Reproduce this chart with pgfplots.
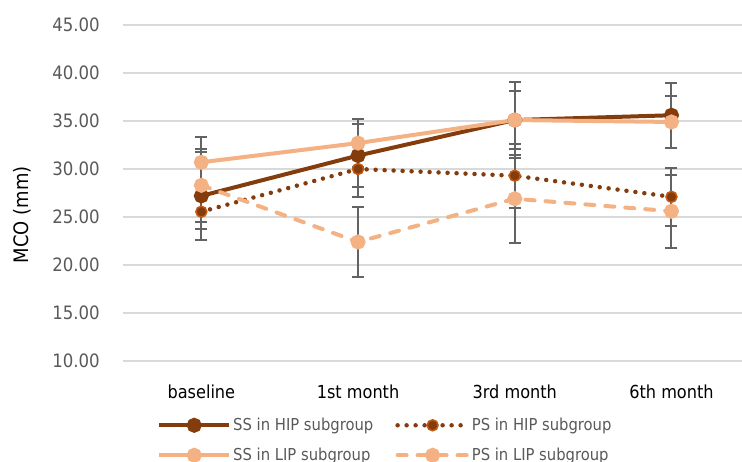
\documentclass[border=0pt]{standalone}
\usepackage{pgfplots}
\pgfplotsset{compat=1.18}
\usepackage{pgfplotstable}
\usepackage{fontspec}
\setmainfont{DejaVu Sans Condensed}
\definecolor{darkb}{HTML}{843C0C}
\definecolor{lightb}{HTML}{F4B183}
\definecolor{orgb}{HTML}{C55A11}
\definecolor{errg}{HTML}{636363}
\definecolor{gridg}{HTML}{D9D9D9}
\definecolor{txtg}{HTML}{595959}

\pgfplotstableread{
x y e
0 27.2 4.55
1 31.4 3.3
2 35.1 3.05
3 35.6 3.4
}\sship
\pgfplotstableread{
x y e
0 30.7 2.6
1 32.7 2.5
2 35.1 3.95
3 34.9 2.7
}\sslip
\pgfplotstableread{
x y e
0 25.55 1.8
1 30.0 2.9
2 29.3 3.35
3 27.1 3.0
}\pship
\pgfplotstableread{
x y e
0 28.3 3.8
1 22.4 3.6
2 26.9 4.6
3 25.6 3.8
}\pslip

\begin{document}
\begin{tikzpicture}[x=1bp,y=1bp]
\begin{axis}[
  at={(123bp,101bp)}, anchor=south west,
  scale only axis, width=619bp, height=336bp,
  xmin=-0.5, xmax=3.45, ymin=10, ymax=45,
  ytick={10,15,...,45},
  xtick={0,1,2,3},
  xticklabels={baseline,1st month,3rd month,6th month},
  ymajorgrids, grid style={draw=gridg, line width=1.3bp},
  axis line style={draw=none},
  major tick length=0pt,
  clip=false,
  /pgf/number format/assume math mode=true,
  /pgf/number format/.cd, fixed, fixed zerofill, precision=2, /pgfplots/.cd,
  yticklabel style={font=\fontsize{18.5}{20}\selectfont, text=txtg, anchor=east, inner sep=0pt, xshift=-23bp},
  xticklabel style={font=\fontsize{18}{20}\selectfont, text=black, anchor=base, inner sep=0pt, yshift=-37bp},
  ylabel={MCO (mm)},
  ylabel style={font=\fontsize{20}{22}\selectfont, at={(axis description cs:-0.162,0.435)}, anchor=center, rotate=0},
  legend columns=2,
  legend style={at={(axis description cs:0.055,-0.164)}, anchor=north west, draw=none, fill=none,
    font=\fontsize{16.5}{18}\selectfont, text=txtg, inner sep=0pt, row sep=12bp,
    /tikz/every even column/.append style={column sep=20bp}},
  legend cell align=left,
  legend image code/.code={\draw[#1, mark repeat=2, mark phase=2] plot coordinates {(0bp,0bp) (35bp,0bp) (70bp,0bp)};},
  error bars/y dir=both, error bars/y explicit,
  error bars/error bar style={errg, line width=2bp, solid},
  error bars/error mark options={errg, line width=2bp, mark size=6bp, rotate=90, solid},
]
\addplot[darkb, line width=4bp, mark=*, mark size=5.5bp, mark options={solid, fill=darkb, draw=darkb}]
  table[x=x, y=y, y error=e] {\sship};
\addlegendentry{SS in HIP subgroup}
\addplot[darkb, line width=4.5bp, line cap=round, dash pattern=on 0bp off 9bp, mark=*, mark size=5.5bp, mark options={solid, fill=darkb, draw=orgb, line width=1.5bp}]
  table[x=x, y=y, y error=e] {\pship};
\addlegendentry{PS in HIP subgroup}
\addplot[lightb, line width=4bp, mark=*, mark size=5.5bp, mark options={solid, fill=lightb, draw=lightb}]
  table[x=x, y=y, y error=e] {\sslip};
\addlegendentry{SS in LIP subgroup}
\addplot[lightb, line width=4bp, line cap=round, dash pattern=on 9bp off 11bp, mark=*, mark size=5.5bp, mark options={solid, fill=lightb, draw=lightb}]
  table[x=x, y=y, y error=e] {\pslip};
\addlegendentry{PS in LIP subgroup}
\end{axis}
\pgfresetboundingbox
\path (0bp,0bp) rectangle (742bp,462bp);
\end{tikzpicture}
\end{document}
